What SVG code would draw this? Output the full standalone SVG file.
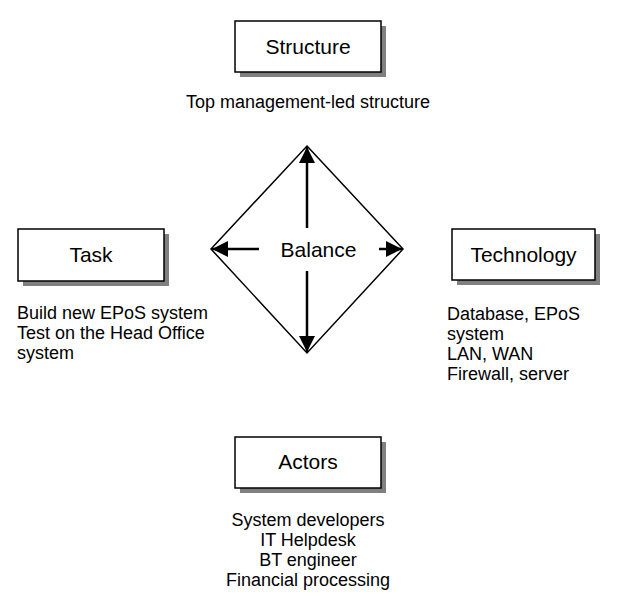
<svg xmlns="http://www.w3.org/2000/svg" width="621" height="603" viewBox="0 0 621 603">
<style>
.shadow{fill:#808080;stroke:none}
.box{fill:#fff;stroke:#000;stroke-width:1.5}
.lbl{font-family:"Liberation Sans",Arial,sans-serif;font-size:21px;fill:#000;text-anchor:middle}
.txt{font-family:"Liberation Sans",Arial,sans-serif;font-size:18px;fill:#000}
.arr{stroke:#000;stroke-width:2.5;fill:none;marker-end:url(#ah)}
</style>
<defs>
<marker id="ah" markerUnits="userSpaceOnUse" markerWidth="17" markerHeight="16" refX="16" refY="8" orient="auto">
<path d="M0,0 L16,8 L0,16 z" fill="#000"/>
</marker>
</defs>
<rect width="621" height="603" fill="#fff"/>
<g id="structure">
<rect class="shadow" x="240" y="26" width="146" height="51"/>
<rect class="box" x="235" y="21" width="146" height="51"/>
<text class="lbl" x="308" y="54">Structure</text>
<text class="txt" x="308" y="108" text-anchor="middle">Top management-led structure</text>
</g>
<g id="task">
<rect class="shadow" x="23" y="234" width="146" height="52"/>
<rect class="box" x="18" y="229" width="146" height="52"/>
<text class="lbl" x="91" y="262">Task</text>
<text class="txt" x="17" y="319">Build new EPoS system</text>
<text class="txt" x="17" y="339">Test on the Head Office</text>
<text class="txt" x="17" y="359">system</text>
</g>
<g id="technology">
<rect class="shadow" x="457" y="234" width="143" height="51"/>
<rect class="box" x="452" y="229" width="143" height="51"/>
<text class="lbl" x="523.5" y="262">Technology</text>
<text class="txt" x="447" y="320">Database, EPoS</text>
<text class="txt" x="447" y="340">system</text>
<text class="txt" x="447" y="360">LAN, WAN</text>
<text class="txt" x="447" y="380">Firewall, server</text>
</g>
<g id="actors">
<rect class="shadow" x="240" y="442" width="146" height="51"/>
<rect class="box" x="235" y="437" width="146" height="51"/>
<text class="lbl" x="308" y="469">Actors</text>
<text class="txt" x="308" y="526" text-anchor="middle">System developers</text>
<text class="txt" x="308" y="546" text-anchor="middle">IT Helpdesk</text>
<text class="txt" x="308" y="566" text-anchor="middle">BT engineer</text>
<text class="txt" x="308" y="586" text-anchor="middle">Financial processing</text>
</g>
<g id="balance">
<polygon points="307,146 403,249 307,353 211,249" fill="none" stroke="#000" stroke-width="1.5"/>
<text class="lbl" x="318.5" y="257">Balance</text>
</g>
<g id="connectors">
<line class="arr" x1="307" y1="228" x2="307" y2="147"/>
<line class="arr" x1="307" y1="271" x2="307" y2="352"/>
<line class="arr" x1="259" y1="249" x2="212" y2="249"/>
<line class="arr" x1="379" y1="249" x2="402" y2="249"/>
</g>
</svg>
